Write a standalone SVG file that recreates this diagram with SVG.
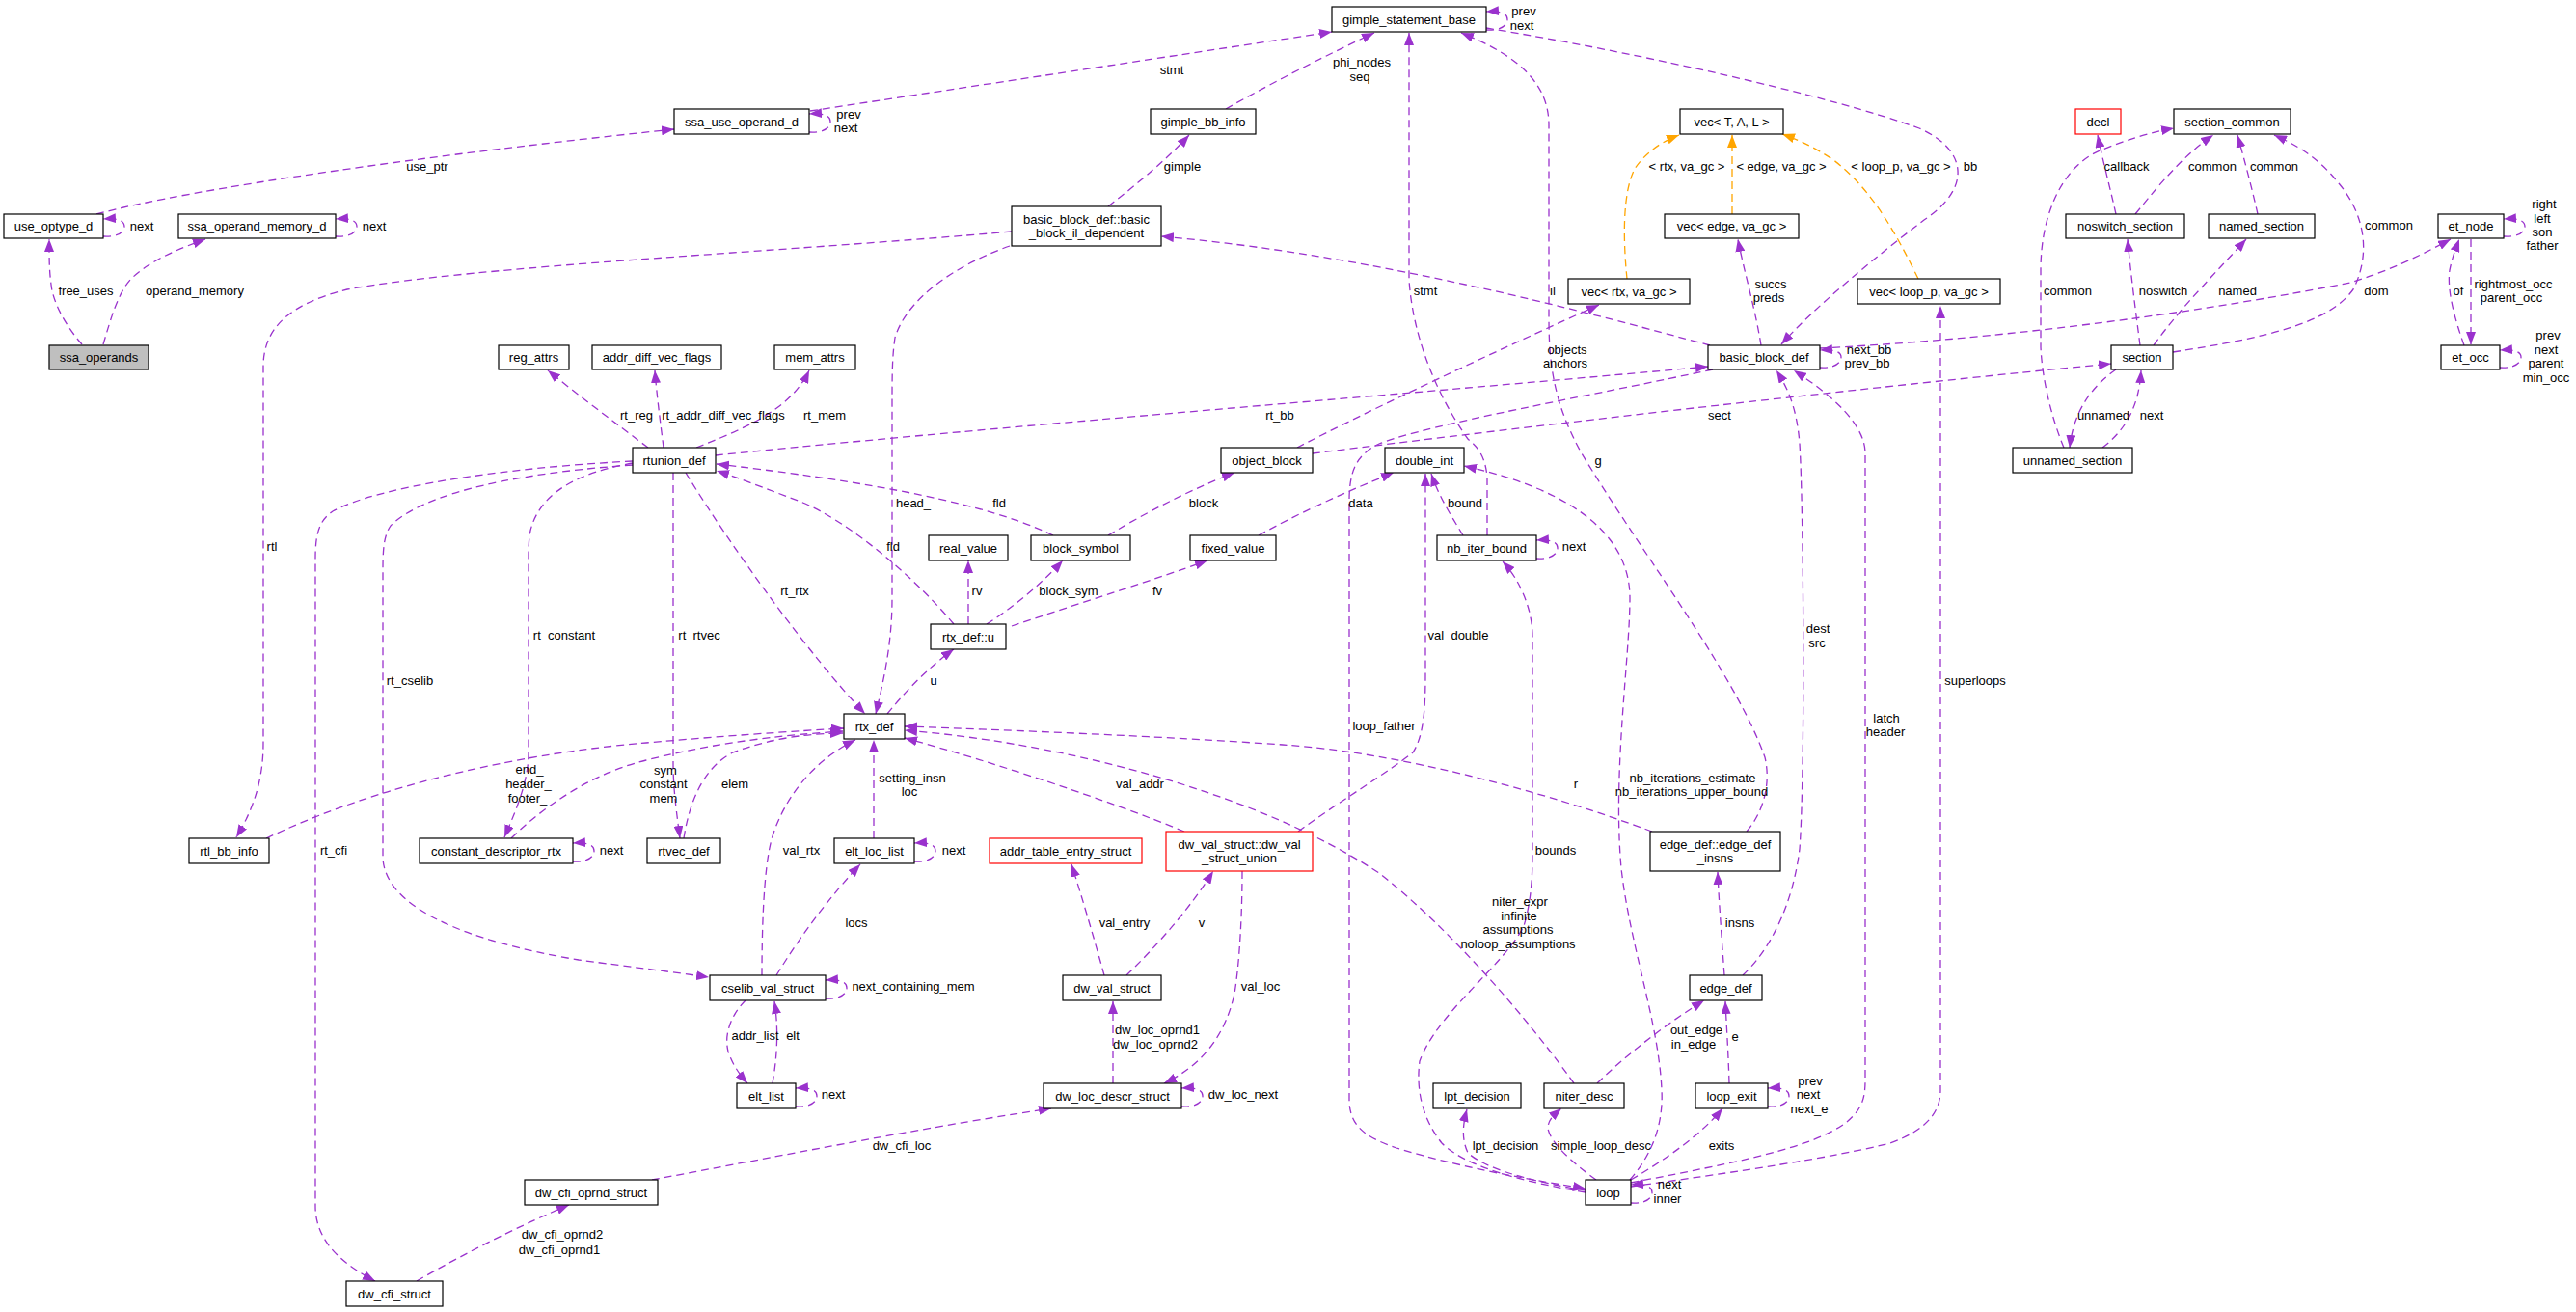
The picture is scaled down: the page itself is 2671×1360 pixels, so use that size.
<svg xmlns="http://www.w3.org/2000/svg" width="2671" height="1360" viewBox="0 0 2671 1360">
<style>
.n rect{fill:#fff;stroke:#000;stroke-width:1.2}
.n.red rect{stroke:#ff0000}
.n.main rect{fill:#bfbfbf}
text{font-family:"Liberation Sans",Arial,sans-serif;font-size:13px;text-anchor:middle;fill:#000}
.e path{fill:none;stroke:#9a32cd;stroke-width:1.3;stroke-dasharray:8,5}
.e path.o{stroke:#ffa500}
</style>
<defs>
<marker id="ap" markerUnits="userSpaceOnUse" markerWidth="14" markerHeight="10" refX="13" refY="5" orient="auto" viewBox="0 0 14 10"><path d="M0,0 L13,5 L0,10 z" fill="#9a32cd"/></marker>
<marker id="ao" markerUnits="userSpaceOnUse" markerWidth="14" markerHeight="10" refX="13" refY="5" orient="auto" viewBox="0 0 14 10"><path d="M0,0 L13,5 L0,10 z" fill="#ffa500"/></marker>
</defs>
<rect width="2671" height="1360" fill="#fff"/>
<g id="edges" class="e">
<path marker-end="url(#ap)" d="M85,357 C70,340 55,315 53,295 C51,280 51,268 51,248"/>
<path marker-end="url(#ap)" d="M107,357 C115,330 122,305 135,290 C155,270 185,258 213,248"/>
<path marker-end="url(#ap)" d="M107,245 C119,246 129,242 129,235 C129,229 123,226 107,227"/>
<path marker-end="url(#ap)" d="M348,245 C360,246 370,242 370,235 C370,229 364,226 348,227"/>
<path marker-end="url(#ap)" d="M100,222 C200,195 450,160 699,134"/>
<path marker-end="url(#ap)" d="M839,137 C851,138 861,134 861,126 C861,120 855,117 839,118"/>
<path marker-end="url(#ap)" d="M840,115 L1381,33"/>
<path marker-end="url(#ap)" d="M1271,113 C1320,85 1380,55 1425,34"/>
<path marker-end="url(#ap)" d="M1149,214 C1180,190 1210,165 1233,140"/>
<path marker-end="url(#ap)" d="M1773,358 C1650,325 1430,265 1204,245"/>
<path marker-end="url(#ap)" d="M1541,31 C1553,32 1563,28 1563,20 C1563,14 1557,11 1541,12"/>
<path marker-end="url(#ap)" d="M1541,29 C1700,55 1900,100 1990,133 C2040,155 2045,195 1995,228 C1940,270 1880,320 1847,357"/>
<path marker-end="url(#ap)" d="M1542,555 L1542,495 C1540,470 1530,462 1522,455 C1490,410 1465,350 1461,290 L1461,34"/>
<path marker-end="url(#ap)" d="M1811,862 C1830,840 1836,810 1830,785 C1800,700 1700,570 1640,470 C1612,420 1606,380 1606,330 L1606,130 C1606,90 1580,60 1515,34"/>
<path marker-end="url(#ap)" d="M1345,464 C1420,425 1560,360 1658,316"/>
<path marker-end="url(#ap)" d="M1361,470 C1600,440 1950,400 2189,377"/>
<path marker-end="url(#ap)" d="M1826,358 C1820,320 1808,280 1802,248"/>
<path class="o" marker-end="url(#ao)" d="M1989,289 C1965,240 1940,195 1900,165 C1880,152 1865,145 1848,139"/>
<path class="o" marker-end="url(#ao)" d="M1796,222 L1796,140"/>
<path class="o" marker-end="url(#ao)" d="M1687,289 C1683,250 1682,200 1695,175 C1705,160 1720,148 1741,140"/>
<path marker-end="url(#ap)" d="M1691,1230 C1800,1215 1900,1200 1960,1185 C1995,1172 2012,1155 2012,1130 L2012,317"/>
<path marker-end="url(#ap)" d="M1691,1226 C1800,1205 1880,1190 1915,1163 C1930,1150 1934,1140 1934,1120 L1934,470 C1934,440 1900,410 1860,384"/>
<path marker-end="url(#ap)" d="M1807,1011 C1840,980 1860,930 1866,880 C1872,800 1870,520 1866,460 C1863,420 1852,400 1842,384"/>
<path marker-end="url(#ap)" d="M1776,383 C1650,410 1480,440 1430,460 C1405,472 1399,490 1399,520 L1399,1140 C1399,1170 1420,1180 1448,1190 C1520,1212 1600,1225 1644,1232"/>
<path marker-end="url(#ap)" d="M1644,1236 C1580,1225 1520,1210 1495,1185 C1475,1160 1468,1130 1472,1100 C1490,1050 1560,1000 1580,960 C1589,930 1589,900 1589,880 L1589,660 C1589,630 1575,600 1558,582"/>
<path marker-end="url(#ap)" d="M1690,1223 C1710,1200 1725,1170 1723,1130 C1720,1060 1690,980 1681,900 C1672,800 1690,680 1690,620 C1690,560 1640,510 1518,483"/>
<path marker-end="url(#ap)" d="M1346,862 C1390,830 1440,800 1465,780 C1475,765 1478,740 1478,700 L1478,491"/>
<path marker-end="url(#ap)" d="M1517,555 C1505,535 1492,515 1484,491"/>
<path marker-end="url(#ap)" d="M1305,555 C1350,530 1400,508 1445,490"/>
<path marker-end="url(#ap)" d="M1593,579 C1605,580 1615,576 1615,568 C1615,562 1609,559 1593,560"/>
<path marker-end="url(#ap)" d="M1632,1123 C1580,1050 1500,960 1430,905 C1300,820 1100,770 938,757"/>
<path marker-end="url(#ap)" d="M1713,862 C1600,820 1450,780 1330,772 C1200,763 1050,757 938,753"/>
<path marker-end="url(#ap)" d="M1228,862 C1150,830 1030,790 938,765"/>
<path marker-end="url(#ap)" d="M276,869 C400,810 550,780 670,770 C750,763 820,758 875,755"/>
<path marker-end="url(#ap)" d="M530,869 C570,830 620,800 670,788 C740,770 810,762 874,758"/>
<path marker-end="url(#ap)" d="M709,869 C715,830 730,795 760,780 C800,765 840,760 874,760"/>
<path marker-end="url(#ap)" d="M790,1011 C790,960 792,900 800,870 C815,820 850,785 887,767"/>
<path marker-end="url(#ap)" d="M906,869 L906,767"/>
<path marker-end="url(#ap)" d="M920,740 C940,715 965,690 989,673"/>
<path marker-end="url(#ap)" d="M711,490 C760,570 840,680 897,740"/>
<path marker-end="url(#ap)" d="M1047,255 C990,275 940,310 928,350 C925,370 925,390 925,420 L925,620 C925,670 915,710 908,740"/>
<path marker-end="url(#ap)" d="M989,647 C950,600 880,540 830,520 C790,505 765,495 743,488"/>
<path marker-end="url(#ap)" d="M1092,555 C1040,530 950,505 743,481"/>
<path marker-end="url(#ap)" d="M1149,555 C1190,530 1240,505 1280,490"/>
<path marker-end="url(#ap)" d="M1004,647 L1004,581"/>
<path marker-end="url(#ap)" d="M1023,647 C1050,630 1080,605 1102,581"/>
<path marker-end="url(#ap)" d="M1049,649 C1120,625 1200,600 1252,581"/>
<path marker-end="url(#ap)" d="M742,472 C1000,445 1500,405 1771,380"/>
<path marker-end="url(#ap)" d="M1049,240 C800,262 500,275 360,300 C300,315 273,340 273,380 L273,770 C273,810 262,840 245,868"/>
<path marker-end="url(#ap)" d="M672,464 C640,440 600,410 568,384"/>
<path marker-end="url(#ap)" d="M688,464 C685,440 681,410 679,384"/>
<path marker-end="url(#ap)" d="M722,464 C770,445 820,425 839,384"/>
<path marker-end="url(#ap)" d="M698,490 L698,790 C698,820 702,845 705,869"/>
<path marker-end="url(#ap)" d="M656,480 C600,490 560,510 550,550 C548,560 548,570 548,580 L548,780 C548,810 535,840 523,868"/>
<path marker-end="url(#ap)" d="M656,482 C540,490 440,510 405,545 C398,555 397,570 397,590 L397,890 C400,940 480,975 600,995 C660,1003 700,1008 735,1013"/>
<path marker-end="url(#ap)" d="M656,478 C520,485 390,505 345,530 C330,540 327,555 327,580 L327,1250 C327,1280 345,1305 389,1328"/>
<path marker-end="url(#ap)" d="M805,1011 C830,970 860,930 892,896"/>
<path marker-end="url(#ap)" d="M856,1035 C868,1036 878,1032 878,1024 C878,1018 872,1015 856,1016"/>
<path marker-end="url(#ap)" d="M773,1037 C760,1050 750,1070 755,1090 C760,1105 768,1115 775,1123"/>
<path marker-end="url(#ap)" d="M801,1123 C805,1100 808,1070 803,1038"/>
<path marker-end="url(#ap)" d="M825,1147 C837,1148 847,1144 847,1136 C847,1130 841,1127 825,1128"/>
<path marker-end="url(#ap)" d="M948,893 C960,894 970,890 970,882 C970,876 964,873 948,874"/>
<path marker-end="url(#ap)" d="M594,893 C606,894 616,890 616,882 C616,876 610,873 594,874"/>
<path marker-end="url(#ap)" d="M1145,1011 C1135,975 1122,930 1111,896"/>
<path marker-end="url(#ap)" d="M1168,1011 C1200,980 1235,940 1258,903"/>
<path marker-end="url(#ap)" d="M1288,903 C1288,950 1285,1000 1280,1030 C1270,1075 1245,1105 1207,1123"/>
<path marker-end="url(#ap)" d="M1154,1123 L1154,1038"/>
<path marker-end="url(#ap)" d="M1225,1147 C1237,1148 1247,1144 1247,1136 C1247,1130 1241,1127 1225,1128"/>
<path marker-end="url(#ap)" d="M676,1223 C800,1200 950,1170 1090,1149"/>
<path marker-end="url(#ap)" d="M432,1328 C480,1300 540,1270 590,1249"/>
<path marker-end="url(#ap)" d="M1644,1234 C1590,1225 1540,1212 1522,1195 C1515,1180 1517,1165 1521,1150"/>
<path marker-end="url(#ap)" d="M1655,1223 C1630,1205 1608,1185 1605,1170 C1605,1160 1612,1155 1619,1149"/>
<path marker-end="url(#ap)" d="M1691,1223 C1730,1200 1765,1175 1786,1149"/>
<path marker-end="url(#ap)" d="M1691,1247 C1703,1248 1713,1244 1713,1236 C1713,1230 1707,1227 1691,1228"/>
<path marker-end="url(#ap)" d="M1793,1123 C1792,1090 1790,1060 1789,1038"/>
<path marker-end="url(#ap)" d="M1833,1147 C1845,1148 1855,1144 1855,1136 C1855,1130 1849,1127 1833,1128"/>
<path marker-end="url(#ap)" d="M1656,1123 C1690,1090 1730,1060 1767,1037"/>
<path marker-end="url(#ap)" d="M1788,1011 C1785,970 1782,930 1781,904"/>
<path marker-end="url(#ap)" d="M2253,365 C2350,350 2415,335 2440,300 C2460,260 2450,220 2425,190 C2405,165 2385,152 2358,140"/>
<path marker-end="url(#ap)" d="M2194,222 C2188,195 2180,165 2175,140"/>
<path marker-end="url(#ap)" d="M2214,222 C2240,190 2265,160 2295,140"/>
<path marker-end="url(#ap)" d="M2341,222 C2335,195 2327,165 2320,140"/>
<path marker-end="url(#ap)" d="M2140,464 C2130,440 2118,400 2116,360 L2116,280 C2116,220 2140,170 2180,155 C2205,145 2230,137 2254,133"/>
<path marker-end="url(#ap)" d="M2194,383 C2170,400 2150,425 2146,464"/>
<path marker-end="url(#ap)" d="M2180,464 C2205,445 2218,420 2220,384"/>
<path marker-end="url(#ap)" d="M2219,358 C2214,320 2209,280 2206,248"/>
<path marker-end="url(#ap)" d="M2233,358 C2260,320 2300,280 2329,248"/>
<path marker-end="url(#ap)" d="M1887,361 C2100,350 2300,320 2437,293 C2480,280 2515,262 2541,248"/>
<path marker-end="url(#ap)" d="M1887,381 C1899,382 1909,378 1909,370 C1909,365 1903,362 1887,363"/>
<path marker-end="url(#ap)" d="M2596,245 C2608,246 2618,242 2618,235 C2618,229 2612,226 2596,227"/>
<path marker-end="url(#ap)" d="M2592,381 C2604,382 2614,378 2614,370 C2614,365 2608,362 2592,363"/>
<path marker-end="url(#ap)" d="M2555,358 C2545,330 2537,300 2540,280 C2543,265 2547,256 2550,248"/>
<path marker-end="url(#ap)" d="M2562,248 L2562,357"/>
</g>
<g id="edge-labels">
<text x="89" y="306">free_uses</text>
<text x="202" y="306">operand_memory</text>
<text x="147" y="239">next</text>
<text x="388" y="239">next</text>
<text x="443" y="177">use_ptr</text>
<text x="880" y="123">prev</text><text x="877" y="137">next</text>
<text x="1215" y="77">stmt</text>
<text x="1412" y="69">phi_nodes</text><text x="1410" y="84">seq</text>
<text x="1226" y="177">gimple</text>
<text x="1610" y="306">il</text>
<text x="1580" y="16">prev</text><text x="1578" y="31">next</text>
<text x="2043" y="177">bb</text>
<text x="1478" y="306">stmt</text>
<text x="1657" y="482">g</text>
<text x="1625" y="367">objects</text><text x="1623" y="381">anchors</text>
<text x="1783" y="435">sect</text>
<text x="1836" y="299">succs</text><text x="1834" y="313">preds</text>
<text x="1971" y="177">&lt; loop_p, va_gc &gt;</text>
<text x="1847" y="177">&lt; edge, va_gc &gt;</text>
<text x="1749" y="177">&lt; rtx, va_gc &gt;</text>
<text x="2048" y="710">superloops</text>
<text x="1956" y="749">latch</text><text x="1955" y="763">header</text>
<text x="1885" y="656">dest</text><text x="1884" y="671">src</text>
<text x="1435" y="757">loop_father</text>
<text x="1613" y="886">bounds</text>
<text x="1755" y="811">nb_iterations_estimate</text><text x="1754" y="825">nb_iterations_upper_bound</text>
<text x="1512" y="663">val_double</text>
<text x="1519" y="526">bound</text>
<text x="1411" y="526">data</text>
<text x="1632" y="571">next</text>
<text x="1576" y="939">niter_expr</text><text x="1575" y="954">infinite</text><text x="1574" y="968">assumptions</text><text x="1574" y="983">noloop_assumptions</text>
<text x="1634" y="817">r</text>
<text x="1182" y="817">val_addr</text>
<text x="549" y="802">end_</text><text x="548" y="817">header_</text><text x="547" y="832">footer_</text>
<text x="690" y="803">sym</text><text x="688" y="817">constant</text><text x="688" y="832">mem</text>
<text x="762" y="817">elem</text>
<text x="831" y="886">val_rtx</text>
<text x="946" y="811">setting_insn</text><text x="943" y="825">loc</text>
<text x="968" y="710">u</text>
<text x="824" y="617">rt_rtx</text>
<text x="947" y="526">head_</text>
<text x="926" y="571">fld</text>
<text x="1036" y="526">fld</text>
<text x="1248" y="526">block</text>
<text x="1013" y="617">rv</text>
<text x="1108" y="617">block_sym</text>
<text x="1200" y="617">fv</text>
<text x="1327" y="435">rt_bb</text>
<text x="282" y="571">rtl</text>
<text x="660" y="435">rt_reg</text>
<text x="750" y="435">rt_addr_diff_vec_flags</text>
<text x="855" y="435">rt_mem</text>
<text x="725" y="663">rt_rtvec</text>
<text x="585" y="663">rt_constant</text>
<text x="425" y="710">rt_cselib</text>
<text x="346" y="886">rt_cfi</text>
<text x="888" y="961">locs</text>
<text x="947" y="1027">next_containing_mem</text>
<text x="783" y="1078">addr_list</text>
<text x="822" y="1078">elt</text>
<text x="864" y="1139">next</text>
<text x="989" y="886">next</text>
<text x="634" y="886">next</text>
<text x="1166" y="961">val_entry</text>
<text x="1246" y="961">v</text>
<text x="1307" y="1027">val_loc</text>
<text x="1200" y="1072">dw_loc_oprnd1</text><text x="1198" y="1087">dw_loc_oprnd2</text>
<text x="1289" y="1139">dw_loc_next</text>
<text x="935" y="1192">dw_cfi_loc</text>
<text x="583" y="1284">dw_cfi_oprnd2</text><text x="580" y="1300">dw_cfi_oprnd1</text>
<text x="1561" y="1192">lpt_decision</text>
<text x="1660" y="1192">simple_loop_desc</text>
<text x="1785" y="1192">exits</text>
<text x="1731" y="1232">next</text><text x="1729" y="1247">inner</text>
<text x="1799" y="1079">e</text>
<text x="1877" y="1125">prev</text><text x="1875" y="1139">next</text><text x="1876" y="1154">next_e</text>
<text x="1759" y="1072">out_edge</text><text x="1756" y="1087">in_edge</text>
<text x="1804" y="961">insns</text>
<text x="2477" y="238">common</text>
<text x="2205" y="177">callback</text>
<text x="2294" y="177">common</text>
<text x="2358" y="177">common</text>
<text x="2144" y="306">common</text>
<text x="2181" y="435">unnamed</text>
<text x="2231" y="435">next</text>
<text x="2243" y="306">noswitch</text>
<text x="2320" y="306">named</text>
<text x="2464" y="306">dom</text>
<text x="1938" y="367">next_bb</text><text x="1936" y="381">prev_bb</text>
<text x="2638" y="216">right</text><text x="2636" y="231">left</text><text x="2636" y="245">son</text><text x="2636" y="259">father</text>
<text x="2642" y="352">prev</text><text x="2640" y="367">next</text><text x="2640" y="381">parent</text><text x="2640" y="396">min_occ</text>
<text x="2549" y="306">of</text>
<text x="2606" y="299">rightmost_occ</text><text x="2604" y="313">parent_occ</text>
</g>
<g id="node-ssa_operands" class="n main"><rect x="51" y="358" width="103" height="25"/><text x="102.5" y="375">ssa_operands</text></g>
<g id="node-use_optype_d" class="n"><rect x="4" y="222" width="103" height="25"/><text x="55.5" y="239">use_optype_d</text></g>
<g id="node-ssa_operand_memory_d" class="n"><rect x="185" y="222" width="163" height="25"/><text x="266.5" y="239">ssa_operand_memory_d</text></g>
<g id="node-ssa_use_operand_d" class="n"><rect x="699" y="113" width="140" height="26"/><text x="769" y="130.5">ssa_use_operand_d</text></g>
<g id="node-gimple_statement_base" class="n"><rect x="1381" y="7" width="160" height="26"/><text x="1461" y="24.5">gimple_statement_base</text></g>
<g id="node-gimple_bb_info" class="n"><rect x="1193" y="113" width="109" height="26"/><text x="1247.5" y="130.5">gimple_bb_info</text></g>
<g id="node-basic_block_il_dependent" class="n"><rect x="1049" y="214" width="155" height="41"/><text x="1126.5" y="231.5">basic_block_def::basic</text><text x="1126.5" y="245.5">_block_il_dependent</text></g>
<g id="node-vec_T_A_L" class="n"><rect x="1742" y="113" width="107" height="26"/><text x="1795.5" y="130.5">vec&lt; T, A, L &gt;</text></g>
<g id="node-vec_edge" class="n"><rect x="1726" y="222" width="139" height="25"/><text x="1795.5" y="239">vec&lt; edge, va_gc &gt;</text></g>
<g id="node-vec_rtx" class="n"><rect x="1626" y="289" width="126" height="26"/><text x="1689" y="306.5">vec&lt; rtx, va_gc &gt;</text></g>
<g id="node-vec_loop_p" class="n"><rect x="1926" y="289" width="148" height="26"/><text x="2000" y="306.5">vec&lt; loop_p, va_gc &gt;</text></g>
<g id="node-basic_block_def" class="n"><rect x="1771" y="358" width="116" height="25"/><text x="1829" y="375">basic_block_def</text></g>
<g id="node-decl" class="n red"><rect x="2152" y="113" width="47" height="26"/><text x="2175.5" y="130.5">decl</text></g>
<g id="node-section_common" class="n"><rect x="2254" y="113" width="121" height="26"/><text x="2314.5" y="130.5">section_common</text></g>
<g id="node-noswitch_section" class="n"><rect x="2142" y="222" width="123" height="25"/><text x="2203.5" y="239">noswitch_section</text></g>
<g id="node-named_section" class="n"><rect x="2290" y="222" width="110" height="25"/><text x="2345" y="239">named_section</text></g>
<g id="node-et_node" class="n"><rect x="2528" y="222" width="68" height="25"/><text x="2562" y="239">et_node</text></g>
<g id="node-section" class="n"><rect x="2189" y="358" width="64" height="25"/><text x="2221" y="375">section</text></g>
<g id="node-et_occ" class="n"><rect x="2531" y="358" width="61" height="25"/><text x="2561.5" y="375">et_occ</text></g>
<g id="node-unnamed_section" class="n"><rect x="2087" y="464" width="124" height="26"/><text x="2149" y="481.5">unnamed_section</text></g>
<g id="node-reg_attrs" class="n"><rect x="517" y="358" width="73" height="25"/><text x="553.5" y="375">reg_attrs</text></g>
<g id="node-addr_diff_vec_flags" class="n"><rect x="614" y="358" width="134" height="25"/><text x="681" y="375">addr_diff_vec_flags</text></g>
<g id="node-mem_attrs" class="n"><rect x="803" y="358" width="84" height="25"/><text x="845" y="375">mem_attrs</text></g>
<g id="node-rtunion_def" class="n"><rect x="656" y="464" width="86" height="26"/><text x="699" y="481.5">rtunion_def</text></g>
<g id="node-object_block" class="n"><rect x="1266" y="464" width="95" height="26"/><text x="1313.5" y="481.5">object_block</text></g>
<g id="node-double_int" class="n"><rect x="1436" y="464" width="82" height="26"/><text x="1477" y="481.5">double_int</text></g>
<g id="node-real_value" class="n"><rect x="963" y="555" width="82" height="26"/><text x="1004" y="572.5">real_value</text></g>
<g id="node-block_symbol" class="n"><rect x="1069" y="555" width="103" height="26"/><text x="1120.5" y="572.5">block_symbol</text></g>
<g id="node-fixed_value" class="n"><rect x="1234" y="555" width="89" height="26"/><text x="1278.5" y="572.5">fixed_value</text></g>
<g id="node-nb_iter_bound" class="n"><rect x="1490" y="555" width="103" height="26"/><text x="1541.5" y="572.5">nb_iter_bound</text></g>
<g id="node-rtx_def_u" class="n"><rect x="965" y="647" width="78" height="26"/><text x="1004" y="664.5">rtx_def::u</text></g>
<g id="node-rtx_def" class="n"><rect x="875" y="740" width="63" height="26"/><text x="906.5" y="757.5">rtx_def</text></g>
<g id="node-rtl_bb_info" class="n"><rect x="196" y="869" width="83" height="26"/><text x="237.5" y="886.5">rtl_bb_info</text></g>
<g id="node-constant_descriptor_rtx" class="n"><rect x="435" y="869" width="159" height="26"/><text x="514.5" y="886.5">constant_descriptor_rtx</text></g>
<g id="node-rtvec_def" class="n"><rect x="671" y="869" width="76" height="26"/><text x="709" y="886.5">rtvec_def</text></g>
<g id="node-elt_loc_list" class="n"><rect x="865" y="869" width="83" height="26"/><text x="906.5" y="886.5">elt_loc_list</text></g>
<g id="node-addr_table_entry_struct" class="n red"><rect x="1026" y="869" width="158" height="26"/><text x="1105" y="886.5">addr_table_entry_struct</text></g>
<g id="node-dw_val_struct_union" class="n red"><rect x="1209" y="862" width="152" height="41"/><text x="1285" y="879.5">dw_val_struct::dw_val</text><text x="1285" y="893.5">_struct_union</text></g>
<g id="node-edge_def_insns" class="n"><rect x="1711" y="862" width="135" height="41"/><text x="1778.5" y="879.5">edge_def::edge_def</text><text x="1778.5" y="893.5">_insns</text></g>
<g id="node-cselib_val_struct" class="n"><rect x="736" y="1011" width="120" height="26"/><text x="796" y="1028.5">cselib_val_struct</text></g>
<g id="node-dw_val_struct" class="n"><rect x="1102" y="1011" width="102" height="26"/><text x="1153" y="1028.5">dw_val_struct</text></g>
<g id="node-edge_def" class="n"><rect x="1752" y="1011" width="75" height="26"/><text x="1789.5" y="1028.5">edge_def</text></g>
<g id="node-elt_list" class="n"><rect x="764" y="1123" width="61" height="26"/><text x="794.5" y="1140.5">elt_list</text></g>
<g id="node-dw_loc_descr_struct" class="n"><rect x="1082" y="1123" width="143" height="26"/><text x="1153.5" y="1140.5">dw_loc_descr_struct</text></g>
<g id="node-lpt_decision" class="n"><rect x="1486" y="1123" width="91" height="26"/><text x="1531.5" y="1140.5">lpt_decision</text></g>
<g id="node-niter_desc" class="n"><rect x="1601" y="1123" width="83" height="26"/><text x="1642.5" y="1140.5">niter_desc</text></g>
<g id="node-loop_exit" class="n"><rect x="1758" y="1123" width="75" height="26"/><text x="1795.5" y="1140.5">loop_exit</text></g>
<g id="node-loop" class="n"><rect x="1644" y="1223" width="47" height="26"/><text x="1667.5" y="1240.5">loop</text></g>
<g id="node-dw_cfi_oprnd_struct" class="n"><rect x="544" y="1223" width="138" height="26"/><text x="613" y="1240.5">dw_cfi_oprnd_struct</text></g>
<g id="node-dw_cfi_struct" class="n"><rect x="359" y="1328" width="100" height="26"/><text x="409" y="1345.5">dw_cfi_struct</text></g>
</svg>
